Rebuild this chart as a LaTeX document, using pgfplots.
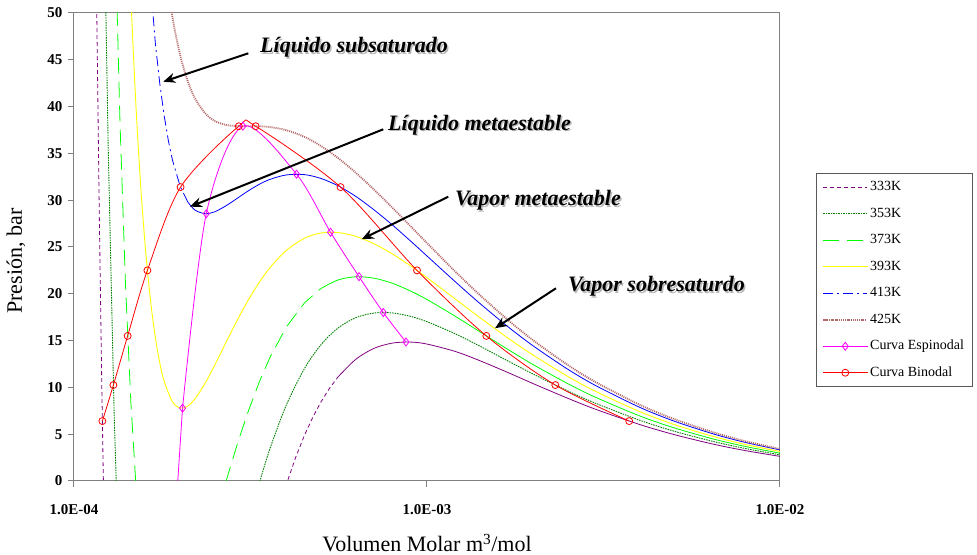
\documentclass[border=0pt]{standalone}
\usepackage{fontspec}
\setmainfont{Liberation Serif}
\usepackage{pgfplots}
\pgfplotsset{compat=1.18}
\usetikzlibrary{arrows.meta}
\definecolor{cA}{RGB}{128,0,128}
\definecolor{cB}{RGB}{0,128,0}
\definecolor{cC}{RGB}{0,255,0}
\definecolor{cD}{RGB}{255,255,0}
\definecolor{cE}{RGB}{0,0,255}
\definecolor{cF}{RGB}{180,105,105}
\definecolor{cS}{RGB}{255,0,255}
\definecolor{cR}{RGB}{255,0,0}
\definecolor{axgray}{RGB}{128,128,128}
\newcommand{\annfont}{\fontsize{22}{22}\selectfont\bfseries\itshape}
\begin{document}
\begin{tikzpicture}
\begin{axis}[
  name=ax,
  xmode=log, log basis x=10,
  scale only axis, width=706pt, height=468pt,
  xmin=1e-4, xmax=1e-2, ymin=0, ymax=50,
  xtick={1e-4,1e-3,1e-2},
  xticklabels={1.0E-04,1.0E-03,1.0E-02},
  xminorticks=false,
  ytick={0,5,10,15,20,25,30,35,40,45,50},
  xtick pos=bottom, ytick pos=left,
  tick align=outside, major tick length=6pt,
  axis line style={axgray, line width=1pt},
  tick style={axgray, line width=1pt},
  /pgf/number format/assume math mode=true,
  ticklabel style={font=\fontsize{15}{15}\selectfont\bfseries},
  xticklabel style={yshift=-14pt},
  yticklabel style={xshift=-2pt},
  xlabel={Volumen Molar m\textsuperscript{3}/mol},
  ylabel={Presión, bar},
  every axis x label/.style={at={(rel axis cs:0.5,0)}, yshift=-62pt, anchor=center, font=\fontsize{22}{22}\selectfont},
  every axis y label/.style={at={(rel axis cs:0,0.47)}, xshift=-58pt, rotate=90, anchor=center, font=\fontsize{22}{22}\selectfont},
  legend style={at={(1.051,0.6574)}, anchor=north west, draw=gray!70!black, line width=0.8pt,
    inner xsep=6pt, inner ysep=5pt, row sep=9.5pt,
    font=\fontsize{14}{14}\selectfont,
    nodes={inner sep=2pt, text depth=3pt, text height=10pt}},
  legend cell align=left,
  legend image code/.code={\draw[mark repeat=2,mark phase=2,#1] plot coordinates {(0pt,0pt) (22pt,0pt) (44pt,0pt)};},
]
% 333 K
\addplot[color=cA, line width=0.8pt, dash pattern=on 4pt off 3pt] coordinates {
(1.14e-4,76.8) (1.16e-4,50.3) (1.18e-4,28.0) (1.20e-4,9.2) (1.22e-4,-6.7) (1.25e-4,-26.2)
(3.6e-4,-6.34) (4.0e-4,-0.31) (4.25e-4,2.56) (4.5e-4,4.91) (4.75e-4,6.83) (5.0e-4,8.40) (5.3e-4,9.93) (5.6e-4,11.13)};
\addlegendentry{333K}
\addplot[color=cA, line width=0.8pt, smooth, forget plot] coordinates {
(5.6e-4,11.13) (6.3e-4,13.03) (7.1e-4,14.19) (8.0e-4,14.74) (9.0e-4,14.84) (1.0e-3,14.63) (1.2e-3,13.85)
(1.4e-3,12.91) (1.7e-3,11.57) (2.0e-3,10.40) (2.5e-3,8.85) (3.0e-3,7.67) (4.0e-3,6.04) (5.0e-3,4.97)
(6.5e-3,3.92) (8.0e-3,3.24) (1.0e-2,2.63)};
% 353 K
\addplot[color=cB, line width=0.9pt, dash pattern=on 1.5pt off 1pt] coordinates {
(1.20e-4,77.6) (1.22e-4,58.9) (1.25e-4,35.7) (1.30e-4,6.99) (1.35e-4,-12.9) (3.10e-4,-4.98)};
\addlegendentry{353K}
\addplot[color=cB, line width=0.9pt, dash pattern=on 1.5pt off 1pt, smooth, forget plot] coordinates {
(3.10e-4,-4.98) (3.35e-4,-0.24) (3.6e-4,3.57) (4.0e-4,8.16) (4.5e-4,12.03) (5.0e-4,14.53) (5.6e-4,16.35)
(6.3e-4,17.46) (7.1e-4,17.95) (8.0e-4,17.95) (9.0e-4,17.58) (1.0e-3,17.02) (1.2e-3,15.74) (1.4e-3,14.48)
(1.7e-3,12.80) (2.0e-3,11.42) (2.5e-3,9.64) (3.0e-3,8.31) (4.0e-3,6.50) (5.0e-3,5.33) (6.5e-3,4.20)
(8.0e-3,3.46) (1.0e-2,2.80)};
% 373 K
\addplot[color=cC, line width=0.8pt, dash pattern=on 16pt off 8pt] coordinates {
(1.25e-4,96.5) (1.30e-4,62.5) (1.35e-4,38.3) (1.40e-4,20.8) (1.45e-4,8.26) (1.50e-4,-0.79) (1.60e-4,-11.7)
(2.50e-4,-4.41) (2.70e-4,0.04) (2.90e-4,3.91) (3.10e-4,7.21) (3.35e-4,10.59) (3.60e-4,13.29) (4.0e-4,16.48)
(4.5e-4,19.04) (5.0e-4,20.55)};
\addlegendentry{373K}
\addplot[color=cC, line width=0.8pt, smooth, forget plot] coordinates {
(5.0e-4,20.55) (5.6e-4,21.48) (6.3e-4,21.82) (7.1e-4,21.66) (8.0e-4,21.11) (9.0e-4,20.28) (1.0e-3,19.39)
(1.2e-3,17.62) (1.4e-3,16.03) (1.7e-3,14.03) (2.0e-3,12.43) (2.5e-3,10.42) (3.0e-3,8.95) (4.0e-3,6.96)
(5.0e-3,5.69) (6.5e-3,4.47) (8.0e-3,3.68) (1.0e-2,2.97)};
% 393 K
\addplot[color=cD, line width=0.9pt, smooth] coordinates {
(1.40e-4,67.4) (1.45e-4,51.6) (1.50e-4,39.7) (1.55e-4,30.79) (1.60e-4,24.1) (1.65e-4,19.07) (1.70e-4,15.35)
(1.75e-4,12.63) (1.80e-4,10.69) (1.90e-4,8.49) (2.00e-4,7.79) (2.10e-4,8.00) (2.20e-4,8.76) (2.35e-4,10.42)
(2.50e-4,12.32) (2.70e-4,14.86) (2.90e-4,17.17) (3.10e-4,19.17) (3.35e-4,21.23) (3.60e-4,22.84) (4.0e-4,24.65)
(4.5e-4,25.94) (5.0e-4,26.49) (5.6e-4,26.54) (6.3e-4,26.13) (7.1e-4,25.32) (8.0e-4,24.23) (9.0e-4,22.96)
(1.0e-3,21.72) (1.2e-3,19.47) (1.4e-3,17.56) (1.7e-3,15.24) (2.0e-3,13.44) (2.5e-3,11.19) (3.0e-3,9.58)
(4.0e-3,7.42) (5.0e-3,6.05) (6.5e-3,4.74) (8.0e-3,3.89) (1.0e-2,3.15)};
\addlegendentry{393K}
% 413 K
\addplot[color=cE, line width=0.8pt, dash pattern=on 10pt off 4pt on 2pt off 4pt] coordinates {
(1.50e-4,79.5) (1.60e-4,59.2) (1.70e-4,46.8) (1.75e-4,42.48) (1.80e-4,39.08) (1.85e-4,36.41) (1.90e-4,34.32)
(2.0e-4,31.47) (2.1e-4,29.82)};
\addlegendentry{413K}
\addplot[color=cE, line width=0.8pt, smooth, forget plot] coordinates {
(2.1e-4,29.82) (2.2e-4,28.95) (2.35e-4,28.56) (2.5e-4,28.75) (2.7e-4,29.42) (2.9e-4,30.20) (3.1e-4,30.94)
(3.35e-4,31.70) (3.6e-4,32.24) (4.0e-4,32.70) (4.5e-4,32.73) (5.0e-4,32.33) (5.6e-4,31.54) (6.3e-4,30.38)
(7.1e-4,28.93) (8.0e-4,27.32) (9.0e-4,25.61) (1.0e-3,24.04) (1.2e-3,21.32) (1.4e-3,19.09) (1.7e-3,16.45)
(2.0e-3,14.43) (2.5e-3,11.96) (3.0e-3,10.21) (4.0e-3,7.88) (5.0e-3,6.41) (6.5e-3,5.01) (8.0e-3,4.11)
(1.0e-2,3.32)};
% 425 K
\addplot[color=cF, line width=1.8pt, dash pattern=on 1pt off 1pt, smooth] coordinates {
(1.70e-4,65.4) (1.80e-4,55.88) (1.90e-4,49.61) (2.0e-4,45.47) (2.1e-4,42.72) (2.2e-4,40.90) (2.35e-4,39.30)
(2.5e-4,38.48) (2.7e-4,38.03) (2.9e-4,37.92) (3.1e-4,37.91) (3.35e-4,37.90) (3.6e-4,37.81) (4.0e-4,37.48)
(4.5e-4,36.76) (5.0e-4,35.81) (5.6e-4,34.50) (6.3e-4,32.90) (7.1e-4,31.08) (8.0e-4,29.15) (9.0e-4,27.19)
(1.0e-3,25.42) (1.2e-3,22.41) (1.4e-3,19.99) (1.7e-3,17.17) (2.0e-3,15.03) (2.5e-3,12.42) (3.0e-3,10.58)
(4.0e-3,8.15) (5.0e-3,6.63) (6.5e-3,5.18) (8.0e-3,4.24) (1.0e-2,3.42)};
\addlegendentry{425K}
% Espinodal
\addplot[color=cS, line width=0.8pt, forget plot] coordinates {(1.83e-4,-18.3) (2.03e-4,7.78)};
\addplot[color=cS, line width=0.8pt, smooth, mark=diamond, mark size=4pt,
  mark options={solid, line width=0.8pt}] coordinates {
(2.03e-4,7.78) (2.37e-4,28.55) (3.01e-4,37.91) (4.27e-4,32.78) (5.33e-4,26.58)
(6.42e-4,21.83) (7.52e-4,18.0) (8.72e-4,14.85)};
\addlegendentry{Curva Espinodal}
% Binodal
\addplot[color=cR, line width=0.8pt, smooth, mark=o, mark size=3.5pt, mark options={solid, line width=0.8pt}] coordinates {
(1.2035e-4,6.4) (1.2933e-4,10.25) (1.4192e-4,15.5) (1.6143e-4,22.5) (2.0042e-4,31.4) (2.93e-4,37.9)
(3.27e-4,37.9) (5.69e-4,31.4) (9.37e-4,22.5) (1.473e-3,15.5) (2.31e-3,10.25) (3.74e-3,6.4)};
\addlegendentry{Curva Binodal}
% annotations
\node[anchor=west, inner sep=0, font=\annfont, text=gray!55] at ([xshift=1.5pt,yshift=-1.5pt]rel axis cs:0.2635,0.9259) {Líquido subsaturado};
\node[anchor=west, inner sep=0, font=\annfont] at (rel axis cs:0.2635,0.9259) {Líquido subsaturado};
\node[anchor=west, inner sep=0, font=\annfont, text=gray!55] at ([xshift=1.5pt,yshift=-1.5pt]rel axis cs:0.4448,0.7607) {Líquido metaestable};
\node[anchor=west, inner sep=0, font=\annfont] at (rel axis cs:0.4448,0.7607) {Líquido metaestable};
\node[anchor=west, inner sep=0, font=\annfont, text=gray!55] at ([xshift=1.5pt,yshift=-1.5pt]rel axis cs:0.5397,0.5989) {Vapor metaestable};
\node[anchor=west, inner sep=0, font=\annfont] at (rel axis cs:0.5397,0.5989) {Vapor metaestable};
\node[anchor=west, inner sep=0, font=\annfont, text=gray!55] at ([xshift=1.5pt,yshift=-1.5pt]rel axis cs:0.6997,0.4152) {Vapor sobresaturdo};
\node[anchor=west, inner sep=0, font=\annfont] at (rel axis cs:0.6997,0.4152) {Vapor sobresaturdo};
\draw[line width=2pt, -{Stealth[length=12pt,width=10pt]}] (rel axis cs:0.2469,0.9139) -- (rel axis cs:0.1265,0.8532);
\draw[line width=2pt, -{Stealth[length=12pt,width=10pt]}] (rel axis cs:0.4381,0.7515) -- (rel axis cs:0.1643,0.5861);
\draw[line width=2pt, -{Stealth[length=12pt,width=10pt]}] (rel axis cs:0.5302,0.6075) -- (rel axis cs:0.4075,0.5165);
\draw[line width=2pt, -{Stealth[length=12pt,width=10pt]}] (rel axis cs:0.6827,0.4118) -- (rel axis cs:0.5963,0.3263);
\end{axis}
\pgfresetboundingbox
\path ([shift={(-74pt,-74pt)}]ax.south west) rectangle ([shift={(197pt,13pt)}]ax.north east);
\end{tikzpicture}
\end{document}
